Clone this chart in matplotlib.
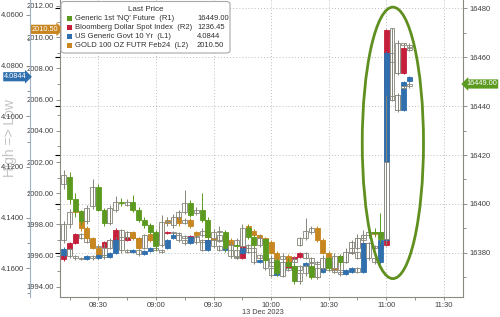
import numpy as np
import pandas as pd
import matplotlib
matplotlib.use("Agg")
import matplotlib.pyplot as plt
import matplotlib.dates as mdates
from matplotlib.ticker import MultipleLocator, FormatStrFormatter
from matplotlib.patches import Ellipse, FancyBboxPatch, Rectangle
from matplotlib.transforms import blended_transform_factory

plt.rcParams['font.family'] = ['Liberation Sans', 'DejaVu Sans']

# 3-minute bars, 13 Dec 2023
times = pd.date_range("2023-12-13 08:12", periods=61, freq="3min")

# Generic 1st 'NQ' Future (R1)
nq_open = [16408, 16411, 16402, 16397, 16393, 16399, 16407, 16397.5, 16392.25, 16397.5,
           16401, 16399.75, 16401, 16397.5, 16393.5, 16391.5, 16388.5, 16383.25, 16392.75, 16391.5,
           16394.5, 16396.75, 16400.5, 16396.5, 16397.5, 16393.5, 16386.25, 16388.5, 16388.5, 16381.25,
           16383.25, 16383, 16390.25, 16386.5, 16383.25, 16385.5, 16376.5, 16377.25, 16370.75, 16376.5,
           16374.75, 16368.75, 16372, 16374.5, 16370.25, 16374, 16378, 16374, 16378.75, 16376.5,
           16380.5, 16382, 16386.25, 16387.5, 16388.75, 16388.75, 16385.5, 16442.5, 16438.5, 16447.5,
           16448.25]
nq_high = [16414, 16413, 16404.5, 16397.5, 16399.5, 16410, 16408, 16398.5, 16399.75, 16403.25,
           16402.5, 16402, 16403.75, 16398.75, 16394.5, 16392.25, 16389.5, 16395.5, 16394.5, 16396,
           16397.5, 16405.75, 16401.75, 16398.75, 16404.5, 16394.5, 16389.75, 16391, 16389.5, 16384.5,
           16384.25, 16392, 16391.5, 16387.5, 16387.5, 16386.25, 16379.25, 16378, 16378, 16378,
           16376, 16373, 16375.5, 16375.25, 16375, 16379.25, 16378.75, 16380, 16379.75, 16382,
           16383.75, 16387.75, 16389.5, 16390, 16390, 16396.5, 16444.5, 16444, 16445.5, 16448.25,
           16449.75]
nq_low = [16406, 16400, 16394.5, 16391.5, 16392, 16398, 16397, 16391, 16391.5, 16396.75,
          16399.25, 16399, 16396.75, 16392.75, 16390.25, 16387.75, 16381.25, 16382.5, 16391, 16390.25,
          16393.5, 16396, 16394.5, 16395.5, 16392.75, 16385.5, 16385.5, 16387, 16380.5, 16378,
          16381.75, 16382, 16385.5, 16382, 16382.5, 16376, 16375.25, 16370.75, 16370, 16373.75,
          16367.5, 16367.5, 16370.75, 16369.5, 16369.5, 16373, 16373, 16373, 16375.25, 16375.75,
          16379.75, 16381.25, 16385.5, 16386.25, 16387, 16384.25, 16383.25, 16442.5, 16437.5, 16447,
          16447.5]
nq_close = [16412, 16402, 16397, 16393, 16398.5, 16407, 16397.5, 16392.25, 16398.5, 16401,
            16400.5, 16401, 16397.5, 16393.5, 16391.5, 16388.5, 16383, 16392.75, 16393, 16394.5,
            16396.75, 16400.5, 16395.5, 16397.5, 16393.5, 16386.5, 16388.5, 16389, 16382, 16383.25,
            16383, 16390.25, 16386.5, 16383.25, 16386.25, 16377.25, 16378, 16371.75, 16376.5, 16374.75,
            16368.75, 16372, 16374.5, 16370.25, 16374, 16378, 16374, 16378.75, 16376.5, 16380.5,
            16382, 16386.25, 16387.5, 16388.75, 16388.25, 16385.5, 16417.25, 16444, 16444.5, 16448.25,
            16449]

# GOLD 100 OZ FUTR Feb24 (L2)
gold_open = [1997.0, 1998.0, 1998.9, 1998.8, 1997.8, 1997.1, 1996.5, 1996.0, 1996.5, 1997.0,
             1996.4, 1997.2, 1997.5, 1997.1, 1996.5, 1997.4, 1997.0, 1997.4, 1998.3, 1998.1,
             1998.6, 1998.1, 1998.3, 1997.5, 1997.3, 1997.6, 1997.2, 1997.0, 1997.3, 1997.0,
             1996.7, 1997.0, 1997.9, 1997.6, 1997.3, 1997.1, 1996.9, 1996.2, 1995.8, 1996.0,
             1995.6, 1996.7, 1997.1, 1997.5, 1997.8, 1997.0, 1996.2, 1995.6, 1995.1, 1995.6,
             1996.2, 1996.6, 1997.0, 1997.3, 1997.5, 1997.3, 1997.2, 2006.0, 2007.7, 2009.5,
             2009.4]
gold_high = [1998.2, 1999.0, 1999.2, 1998.9, 1997.9, 1997.2, 1996.7, 1996.8, 1997.1, 1997.2,
             1997.4, 1997.6, 1997.6, 1997.2, 1997.4, 1997.5, 1997.5, 1998.0, 1998.5, 1998.6,
             1998.7, 1998.4, 1998.4, 1997.6, 1997.8, 1997.7, 1997.3, 1997.4, 1997.4, 1997.1,
             1997.1, 1997.4, 1998.0, 1997.7, 1997.4, 1997.2, 1997.0, 1996.3, 1996.2, 1996.1,
             1996.0, 1997.2, 1998.4, 1997.9, 1997.9, 1997.1, 1996.3, 1995.7, 1995.7, 1996.3,
             1997.0, 1997.2, 1997.4, 1997.6, 1997.6, 1997.6, 2006.0, 2010.6, 2009.8, 2009.6,
             2009.6]
gold_low = [1996.8, 1997.8, 1998.7, 1997.6, 1997.0, 1996.4, 1995.8, 1995.9, 1996.4, 1996.6,
            1996.2, 1997.0, 1997.0, 1996.3, 1996.4, 1996.9, 1996.9, 1997.3, 1998.0, 1998.0,
            1997.9, 1998.0, 1997.8, 1997.2, 1997.2, 1997.1, 1996.9, 1996.9, 1996.9, 1996.6,
            1996.6, 1996.9, 1997.5, 1997.2, 1997.0, 1996.7, 1996.1, 1995.8, 1995.7, 1995.5,
            1995.5, 1996.6, 1997.0, 1997.4, 1996.9, 1996.1, 1995.5, 1994.9, 1994.9, 1995.5,
            1996.1, 1996.5, 1996.9, 1997.2, 1997.2, 1997.2, 1997.0, 2005.9, 2007.6, 2009.4,
            2009.4]
gold_close = [1998.0, 1998.8, 1998.8, 1997.8, 1997.1, 1996.5, 1996.0, 1996.5, 1997.0, 1996.7,
              1997.2, 1997.5, 1997.1, 1996.5, 1997.3, 1997.0, 1997.4, 1997.9, 1998.1, 1998.4,
              1998.1, 1998.3, 1997.9, 1997.3, 1997.6, 1997.2, 1997.0, 1997.3, 1997.0, 1996.7,
              1997.0, 1997.3, 1997.6, 1997.3, 1997.1, 1996.8, 1996.2, 1995.8, 1996.0, 1995.6,
              1995.8, 1997.1, 1997.6, 1997.8, 1997.0, 1996.2, 1995.6, 1995.1, 1995.6, 1996.2,
              1996.9, 1997.1, 1997.3, 1997.5, 1997.4, 1997.5, 2006.0, 2010.6, 2009.6, 2009.6,
              2009.5]

# US Generic Govt 10 Yr (L1)
yld_open = [4.1548, 4.1525, 4.1552, 4.1560, 4.1564, 4.1552, 4.1560, 4.1548, 4.1556, 4.1540,
            4.1489, 4.1529, 4.1536, 4.1529, 4.1544, 4.1532, 4.1521, 4.1529, 4.1521, 4.1481,
            4.1469, 4.1489, 4.1501, 4.1477, 4.1497, 4.1529, 4.1489, 4.1513, 4.1529, 4.1521,
            4.1552, 4.1540, 4.1521, 4.1536, 4.1576, 4.1568, 4.1600, 4.1627, 4.1615, 4.1600,
            4.1608, 4.1592, 4.1596, 4.1580, 4.1608, 4.1615, 4.1588, 4.1608, 4.1615, 4.1623,
            4.1615, 4.1600, 4.1615, 4.1501, 4.1560, 4.1576, 4.1489, 4.0750, 4.0916, 4.0976,
            4.0861]
yld_high = [4.1556, 4.1560, 4.1566, 4.1568, 4.1568, 4.1566, 4.1564, 4.1562, 4.1560, 4.1544,
            4.1536, 4.1542, 4.1540, 4.1550, 4.1548, 4.1536, 4.1534, 4.1542, 4.1525, 4.1485,
            4.1495, 4.1507, 4.1505, 4.1503, 4.1534, 4.1532, 4.1519, 4.1534, 4.1534, 4.1558,
            4.1562, 4.1544, 4.1542, 4.1582, 4.1580, 4.1606, 4.1633, 4.1631, 4.1619, 4.1613,
            4.1612, 4.1613, 4.1600, 4.1613, 4.1641, 4.1619, 4.1613, 4.1621, 4.1629, 4.1627,
            4.1619, 4.1621, 4.1621, 4.1566, 4.1582, 4.1584, 4.1497, 4.0790, 4.0980, 4.0980,
            4.0865]
yld_low = [4.1517, 4.1521, 4.1548, 4.1556, 4.1548, 4.1548, 4.1544, 4.1544, 4.1536, 4.1481,
           4.1485, 4.1525, 4.1525, 4.1525, 4.1528, 4.1517, 4.1517, 4.1525, 4.1485, 4.1463,
           4.1465, 4.1485, 4.1473, 4.1473, 4.1493, 4.1485, 4.1485, 4.1509, 4.1517, 4.1517,
           4.1548, 4.1515, 4.1517, 4.1532, 4.1564, 4.1564, 4.1596, 4.1611, 4.1596, 4.1596,
           4.1588, 4.1588, 4.1576, 4.1576, 4.1604, 4.1584, 4.1584, 4.1604, 4.1611, 4.1604,
           4.1596, 4.1596, 4.1497, 4.1497, 4.1556, 4.1481, 4.0742, 4.0746, 4.0912, 4.0861,
           4.0841]
yld_close = [4.1525, 4.1552, 4.1560, 4.1564, 4.1552, 4.1560, 4.1548, 4.1556, 4.1540, 4.1489,
             4.1529, 4.1536, 4.1529, 4.1544, 4.1532, 4.1521, 4.1529, 4.1536, 4.1489, 4.1469,
             4.1489, 4.1501, 4.1477, 4.1497, 4.1529, 4.1489, 4.1513, 4.1529, 4.1521, 4.1552,
             4.1556, 4.1521, 4.1536, 4.1576, 4.1568, 4.1600, 4.1627, 4.1615, 4.1600, 4.1608,
             4.1592, 4.1608, 4.1580, 4.1608, 4.1635, 4.1588, 4.1608, 4.1615, 4.1623, 4.1608,
             4.1600, 4.1615, 4.1501, 4.1560, 4.1576, 4.1489, 4.0750, 4.0786, 4.0976, 4.0865,
             4.0844]

# Bloomberg Dollar Spot Index (R2, axis hidden)
dx_open = [1243.31, 1243.17, 1242.78, 1242.49, 1242.62, 1242.75, 1242.88, 1242.91, 1242.75, 1242.68,
           1242.35, 1242.68, 1242.52, 1242.62, 1242.75, 1242.62, 1242.68, 1242.55, 1242.45, 1242.42,
           1242.45, 1242.55, 1242.62, 1242.55, 1242.68, 1242.78, 1242.68, 1242.58, 1242.71, 1242.85,
           1243.01, 1243.27, 1242.85, 1242.94, 1243.17, 1243.27, 1243.40, 1243.53, 1243.40, 1243.60,
           1243.34, 1243.24, 1243.11, 1243.27, 1243.40, 1243.47, 1243.34, 1243.67, 1243.34, 1243.21,
           1243.11, 1243.08, 1242.94, 1242.78, 1242.88, 1242.94, 1242.85, 1235.79, 1236.78, 1237.20,
           1236.38]
dx_high = [1243.36, 1243.20, 1242.82, 1242.66, 1242.79, 1242.92, 1242.95, 1242.95, 1242.79, 1242.72,
           1242.72, 1242.72, 1242.66, 1242.79, 1242.79, 1242.72, 1242.72, 1242.59, 1242.49, 1242.49,
           1242.59, 1242.66, 1242.66, 1242.72, 1242.82, 1242.82, 1242.72, 1242.75, 1242.89, 1243.05,
           1243.31, 1243.31, 1242.98, 1243.21, 1243.31, 1243.44, 1243.57, 1243.57, 1243.71, 1243.64,
           1243.38, 1243.28, 1243.31, 1243.44, 1243.51, 1243.51, 1243.71, 1243.71, 1243.38, 1243.31,
           1243.15, 1243.31, 1242.98, 1242.92, 1242.98, 1242.98, 1242.89, 1235.97, 1237.24, 1237.24,
           1236.49]
dx_low = [1243.12, 1242.74, 1242.45, 1242.46, 1242.58, 1242.71, 1242.85, 1242.71, 1242.64, 1242.30,
          1242.31, 1242.48, 1242.48, 1242.58, 1242.58, 1242.58, 1242.51, 1242.41, 1242.38, 1242.38,
          1242.41, 1242.51, 1242.51, 1242.51, 1242.64, 1242.64, 1242.54, 1242.54, 1242.67, 1242.81,
          1242.97, 1242.81, 1242.81, 1242.90, 1243.13, 1243.23, 1243.36, 1243.36, 1243.36, 1243.20,
          1243.20, 1243.07, 1243.07, 1243.23, 1243.36, 1243.30, 1243.30, 1243.49, 1243.17, 1243.17,
          1243.04, 1243.04, 1242.74, 1242.74, 1242.84, 1242.81, 1235.75, 1235.75, 1236.74, 1236.29,
          1236.34]
dx_close = [1243.17, 1242.78, 1242.49, 1242.62, 1242.75, 1242.88, 1242.91, 1242.75, 1242.68, 1242.35,
            1242.68, 1242.52, 1242.62, 1242.75, 1242.62, 1242.68, 1242.55, 1242.45, 1242.42, 1242.45,
            1242.55, 1242.62, 1242.55, 1242.68, 1242.78, 1242.68, 1242.58, 1242.71, 1242.85, 1243.01,
            1243.27, 1242.85, 1242.94, 1243.17, 1243.27, 1243.40, 1243.53, 1243.40, 1243.67, 1243.24,
            1243.24, 1243.11, 1243.27, 1243.40, 1243.47, 1243.34, 1243.67, 1243.53, 1243.21, 1243.27,
            1243.08, 1243.27, 1242.78, 1242.88, 1242.94, 1242.85, 1235.79, 1235.93, 1237.20, 1236.38,
            1236.45]

legend_names = ["Generic 1st 'NQ' Future  (R1)", "Bloomberg Dollar Spot Index  (R2)",
                "US Generic Govt 10 Yr  (L1)", "GOLD 100 OZ FUTR Feb24  (L2)"]
legend_last = ["16449.00", "1236.45", "4.0844", "2010.50"]

GREEN = '#5b9a1f'
RED = '#c41e3a'
BLUE = '#2f6fae'
GOLD = '#c7861f'
HOLLOW = '#85857a'
legend_colors = [GREEN, RED, BLUE, GOLD]

xs = mdates.date2num(times)
body_w = 2.6 / 1440


def candles(ax, o, h, l, c, color):
    o, h, l, c = map(np.asarray, (o, h, l, c))
    down = c < o
    cols = [color if d else HOLLOW for d in down]
    ax.vlines(xs, l, h, colors=cols, lw=0.7)
    face = [color if d else 'white' for d in down]
    ax.bar(xs, c - o, bottom=o, width=body_w, color=face, edgecolor=cols, linewidth=0.6)


fig = plt.figure(figsize=(5, 3.17), dpi=100)
ax0 = fig.add_axes([0.12, 0.063, 0.806, 0.937])
ax0.set_xlim(pd.Timestamp("2023-12-13 08:10"), pd.Timestamp("2023-12-13 11:40"))
ax0.set_ylim(16362.0, 16483.3)
ax0.yaxis.set_major_locator(MultipleLocator(20))
ax0.grid(True, which='major', ls=(0, (1.2, 2.5)), color='#b4b4b4', lw=0.6)
ax0.tick_params(axis='y', left=False, labelleft=False, right=False, labelright=False)
ax0.xaxis.set_major_locator(mdates.MinuteLocator(byminute=[0, 30]))
ax0.xaxis.set_minor_locator(mdates.MinuteLocator(byminute=[15, 45]))
ax0.xaxis.set_major_formatter(mdates.DateFormatter('%H:%M'))
ax0.tick_params(axis='x', which='major', length=2.5, width=0.6, color='#808080',
                labelsize=5.5, labelcolor='#404040', pad=0.8)
ax0.tick_params(axis='x', which='minor', length=2, width=0.6, color='#808080')
ax0.spines['top'].set_visible(False)
ax0.spines['right'].set_visible(False)
for s in ('left', 'bottom'):
    ax0.spines[s].set_color('#8a8a80')
    ax0.spines[s].set_linewidth(0.8)

ax_dx = ax0.twinx()
ax_gold = ax0.twinx()
ax_yld = ax0.twinx()
ax_nq = ax0.twinx()
for tw in (ax_dx, ax_gold, ax_yld, ax_nq):
    for s in tw.spines.values():
        s.set_visible(False)

# dollar: hidden inverted axis
ax_dx.set_ylim(1244.55, 1234.81)
ax_dx.yaxis.set_visible(False)
candles(ax_dx, dx_open, dx_high, dx_low, dx_close, RED)

# gold: inner left axis
ax_gold.set_ylim(1993.35, 2012.38)
ax_gold.yaxis.tick_left()
ax_gold.yaxis.set_major_locator(MultipleLocator(2))
ax_gold.yaxis.set_minor_locator(MultipleLocator(1))
ax_gold.yaxis.set_major_formatter(FormatStrFormatter('%.2f'))
candles(ax_gold, gold_open, gold_high, gold_low, gold_close, GOLD)

# 10yr yield: outer left axis, inverted (High => Low)
ax_yld.set_ylim(4.1714, 4.0541)
ax_yld.yaxis.tick_left()
ax_yld.spines['left'].set_visible(True)
ax_yld.spines['left'].set_position(('outward', 21.6))
ax_yld.spines['left'].set_color('#9fb0c4')
ax_yld.spines['left'].set_linewidth(0.8)
ax_yld.yaxis.set_major_locator(MultipleLocator(0.02))
ax_yld.yaxis.set_minor_locator(MultipleLocator(0.01))
ax_yld.yaxis.set_major_formatter(FormatStrFormatter('%.4f'))
candles(ax_yld, yld_open, yld_high, yld_low, yld_close, BLUE)

# NQ: right axis
ax_nq.set_ylim(16362.0, 16483.3)
ax_nq.spines['right'].set_visible(True)
ax_nq.spines['right'].set_color('#8a8a80')
ax_nq.spines['right'].set_linewidth(0.8)
ax_nq.yaxis.set_major_locator(MultipleLocator(20))
ax_nq.yaxis.set_minor_locator(MultipleLocator(10))
ax_nq.yaxis.set_major_formatter(FormatStrFormatter('%d'))
candles(ax_nq, nq_open, nq_high, nq_low, nq_close, GREEN)

for a in (ax_gold, ax_yld, ax_nq):
    a.tick_params(axis='y', which='major', length=3, width=0.6, color='#808080',
                  labelsize=5.5, labelcolor='#404040', pad=1.5)
    a.tick_params(axis='y', which='minor', length=2, width=0.6, color='#808080')

# last price tags
tag = dict(fontsize=5.3, color='white', va='center', clip_on=False)
ax_gold.text(-0.004, float(legend_last[3]), legend_last[3], ha='right',
             transform=blended_transform_factory(ax_gold.transAxes, ax_gold.transData),
             bbox=dict(boxstyle='rarrow,pad=0.15', fc=GOLD, ec='none'), **tag)
ax_yld.text(-0.082, float(legend_last[2]), legend_last[2], ha='right',
            transform=blended_transform_factory(ax_yld.transAxes, ax_yld.transData),
            bbox=dict(boxstyle='rarrow,pad=0.15', fc=BLUE, ec='none'), **tag)
ax_nq.text(1.008, float(legend_last[0]), legend_last[0], ha='left',
           transform=blended_transform_factory(ax_nq.transAxes, ax_nq.transData),
           bbox=dict(boxstyle='larrow,pad=0.15', fc=GREEN, ec='none'), **tag)

# highlight ellipse
ax_nq.add_patch(Ellipse((0.826, 0.519), 0.152, 0.914, transform=ax_nq.transAxes,
                        fill=False, ec='#5f8f1f', lw=2, zorder=10))

# legend box
W, H = 500.0, 317.0
box = FancyBboxPatch((61 / W, 1 - 53 / H), 169 / W, 51.5 / H, boxstyle='round,pad=0,rounding_size=0.008',
                     transform=fig.transFigure, fc='white', ec='#a8a8a8', lw=0.8, zorder=5)
fig.add_artist(box)
fig.text(146 / W, 1 - 9.5 / H, 'Last Price', ha='center', va='center', fontsize=5.8,
         color='#303030', zorder=6)
for i, (name, val, col) in enumerate(zip(legend_names, legend_last, legend_colors)):
    yy = 18.5 + 9 * i
    fig.add_artist(Rectangle((67 / W, 1 - (yy + 2.5) / H), 5 / W, 5 / H, transform=fig.transFigure,
                             fc=col, ec='none', zorder=6))
    fig.text(75 / W, 1 - yy / H, name, ha='left', va='center', fontsize=5.5, color='#303030', zorder=6)
    fig.text(197 / W, 1 - yy / H, val, ha='left', va='center', fontsize=5.5, color='#303030', zorder=6)

fig.text(10 / W, 1 - 138 / H, 'High => Low', rotation=90, ha='center', va='center',
         fontsize=10, color='#c4c4c4', zorder=-1)
fig.text(263 / W, 1 - 313 / H, '13 Dec 2023', ha='center', va='center', fontsize=5.3, color='#404040')

fig.savefig('out.png', dpi=100)
